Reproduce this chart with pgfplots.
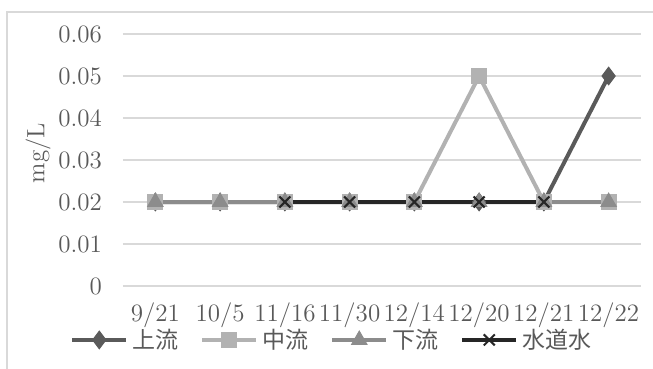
\documentclass[border=0pt]{standalone}
\usepackage{pgfplots}
\pgfplotsset{compat=1.18}
\usepackage{fontspec}
\newfontfamily\jp{Noto Sans CJK JP}
\definecolor{txt}{HTML}{595959}
\definecolor{gridc}{HTML}{D9D9D9}
\definecolor{cUp}{HTML}{5A5A5A}
\definecolor{cMid}{HTML}{B2B2B2}
\definecolor{cLow}{HTML}{8C8C8C}
\definecolor{cTap}{HTML}{262626}
\begin{document}
\begin{tikzpicture}
\useasboundingbox (0,0) rectangle (326.5pt,-184.5pt);
\draw[gridc, line width=0.6pt] (3.5pt,-6pt) rectangle (332pt,-190pt);
\begin{axis}[
  at={(61.5pt,-143pt)}, anchor=south west,
  scale only axis, width=259pt, height=126pt,
  xmin=-0.5, xmax=7.5, ymin=0, ymax=0.06,
  scaled y ticks=false,
  xtick={0,...,7},
  xticklabels={9/21,10/5,11/16,11/30,12/14,12/20,12/21,12/22},
  ytick={0,0.01,0.02,0.03,0.04,0.05,0.06},
  yticklabels={0,0.01,0.02,0.03,0.04,0.05,0.06},
  axis line style={draw=none},
  major tick length=0pt,
  ymajorgrids, grid style={gridc, line width=0.6pt},
  tick label style={text=txt, font=\fontsize{12.5}{14}\selectfont},
  yticklabel style={xshift=-7pt},
  xticklabel style={yshift=-5pt},
  ylabel={mg/L},
  ylabel style={at={(axis description cs:-0.164,0.528)}, anchor=center, text=txt, font=\fontsize{12.5}{14}\selectfont},
  clip=false,
  legend columns=4,
  legend style={at={(axis description cs:0.405,-0.214)}, anchor=center, draw=none, fill=none,
    font=\jp\fontsize{11.5}{13}\selectfont, text=txt,
    /tikz/every even column/.append style={column sep=9pt},
    inner sep=0pt},
  legend image code/.code={
    \draw[mark repeat=2, mark phase=2] plot coordinates {(0pt,0pt) (13.5pt,0pt) (27pt,0pt)};
  },
  every axis plot/.append style={line width=2pt},
]
\addplot[cUp, mark=diamond*, mark size=4.4pt, mark options={fill=cUp, draw=cUp, line width=0.5pt}]
  coordinates {(0,0.02) (1,0.02) (2,0.02) (3,0.02) (4,0.02) (5,0.02) (6,0.02) (7,0.05)};
\addlegendentry{上流}
\addplot[cMid, mark=square*, mark size=3.7pt, mark options={fill=cMid, draw=cMid, line width=0.5pt}]
  coordinates {(0,0.02) (1,0.02) (2,0.02) (3,0.02) (4,0.02) (5,0.05) (6,0.02) (7,0.02)};
\addlegendentry{中流}
\addplot[cLow, mark=triangle*, mark size=4.4pt, mark options={fill=cLow, draw=cLow, line width=0.5pt}]
  coordinates {(0,0.02) (1,0.02) (2,0.02) (3,0.02) (4,0.02) (5,0.02) (6,0.02) (7,0.02)};
\addlegendentry{下流}
\addplot[cTap, mark=x, mark size=3.9pt, mark options={draw=cTap, line width=1pt}]
  coordinates {(2,0.02) (3,0.02) (4,0.02) (5,0.02) (6,0.02)};
\addlegendentry{水道水}
\end{axis}
\end{tikzpicture}
\end{document}
